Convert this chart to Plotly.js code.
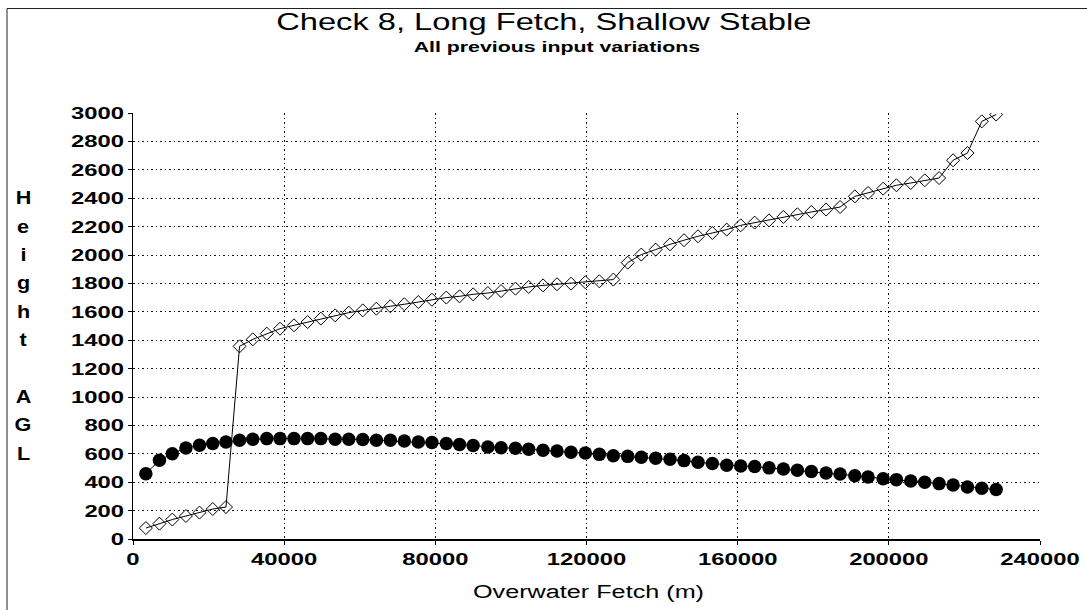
<!DOCTYPE html>
<html><head><meta charset="utf-8">
<script src="https://cdn.plot.ly/plotly-3.0.1.min.js"></script>
<style>html,body{margin:0;padding:0;background:#fff;} #chart{width:1087px;height:610px;}</style>
</head><body><div id="chart"></div>
<script>
// ---- data ----
const fetchM = [3400, 7000, 10400, 14000, 17600, 21100, 24600, 28200, 31700, 35400, 38900, 42600, 46200, 49700, 53500, 57100, 60800, 64400, 68100, 71800, 75500, 79100, 82900, 86400, 90000, 93900, 97400, 101200, 104700, 108500, 112200, 115900, 119700, 123400, 127100, 130900, 134500, 138300, 142100, 145800, 149500, 153300, 157100, 160800, 164500, 168300, 172100, 175800, 179500, 183400, 187100, 191000, 194500, 198500, 202000, 205800, 209500, 213300, 217000, 220800, 224600, 228400];
const heightDiamond = [77, 108, 137, 162, 186, 211, 225, 1357, 1406, 1446, 1481, 1505, 1528, 1552, 1575, 1594, 1610, 1622, 1639, 1653, 1669, 1685, 1700, 1709, 1723, 1732, 1746, 1763, 1775, 1786, 1794, 1798, 1808, 1815, 1827, 1946, 2003, 2038, 2075, 2104, 2132, 2155, 2179, 2209, 2228, 2244, 2268, 2287, 2303, 2320, 2338, 2413, 2437, 2467, 2491, 2507, 2526, 2542, 2667, 2718, 2941, 2989];
const heightDot = [460, 554, 601, 641, 660, 672, 683, 695, 702, 707, 707, 707, 707, 707, 702, 702, 700, 695, 695, 690, 683, 679, 672, 665, 658, 648, 643, 639, 632, 625, 620, 611, 606, 596, 587, 582, 575, 568, 561, 552, 540, 531, 519, 514, 510, 501, 493, 484, 475, 465, 458, 446, 437, 425, 418, 408, 399, 390, 380, 366, 357, 348];
const xTickVals = [0, 40000, 80000, 120000, 160000, 200000, 240000];
const yTickVals = [0, 200, 400, 600, 800, 1000, 1200, 1400, 1600, 1800, 2000, 2200, 2400, 2600, 2800, 3000];
const chartTitle = "Check 8, Long Fetch, Shallow Stable";
const chartSubtitle = "All previous input variations";
const xTitleText = "Overwater Fetch (m)";
const yTitleLetters = ["H", "e", "i", "g", "h", "t", "A", "G", "L"];
const yTitleRows = [2400, 2200, 2000, 1800, 1600, 1400, 1000, 800, 600];

// ---- geometry ----
const W = 1087, H = 610;
const PL = 133, PR = 1040, PT = 113, PB = 539;
const px2x = p => (p - PL) / (PR - PL);
const py2y = p => (PB - p) / (PB - PT);
const FONT = "Liberation Sans, Arial, sans-serif";

const annotations = [];
const stretch = [];
annotations.push({text: chartTitle, xref: 'paper', yref: 'paper', x: px2x(544), y: py2y(21),
  xanchor: 'center', yanchor: 'middle', showarrow: false, font: {family: FONT, size: 24, color: '#000'}});
stretch.push(1.36);
annotations.push({text: chartSubtitle, xref: 'paper', yref: 'paper', x: px2x(557), y: py2y(46),
  xanchor: 'center', yanchor: 'middle', showarrow: false, font: {family: FONT, size: 15, color: '#000', weight: 700}});
stretch.push(1.42);
annotations.push({text: xTitleText, xref: 'paper', yref: 'paper', x: px2x(588), y: py2y(592),
  xanchor: 'center', yanchor: 'middle', showarrow: false, font: {family: FONT, size: 18, color: '#000'}});
stretch.push(1.4);
yTitleLetters.forEach((ch, i) => {
  annotations.push({text: ch, xref: 'paper', yref: 'y', x: px2x(23), y: yTitleRows[i],
    xanchor: 'center', yanchor: 'middle', showarrow: false, font: {family: FONT, size: 18, color: '#000', weight: 700}});
  stretch.push(1.2);
});

const traces = [
  {x: fetchM, y: heightDot, type: 'scatter', mode: 'lines+markers',
   line: {color: '#000', width: 1}, marker: {symbol: 'circle', size: 13.5, color: '#000'}},
  {x: fetchM, y: heightDiamond, type: 'scatter', mode: 'lines+markers',
   line: {color: '#000', width: 1}, marker: {symbol: 'diamond-open', size: 10, color: '#000', line: {width: 1, color: '#000'}}}
];

const gridDash = '1.5px,3px';
const layout = {
  width: W, height: H, showlegend: false,
  paper_bgcolor: '#fff', plot_bgcolor: '#fff',
  margin: {l: PL, r: W - PR, t: PT, b: H - PB, pad: 0},
  font: {family: FONT, color: '#000'},
  xaxis: {range: [0, 240000], tickvals: xTickVals, ticktext: xTickVals.map(String),
    showgrid: true, gridcolor: '#111', gridwidth: 1, griddash: gridDash, zeroline: false,
    showline: true, linecolor: '#000', linewidth: 1.5, ticks: 'outside', ticklen: 4, tickcolor: '#000',
    tickfont: {family: FONT, size: 17, color: '#000', weight: 700}},
  yaxis: {range: [0, 3000], tickvals: yTickVals, ticktext: yTickVals.map(String),
    showgrid: true, gridcolor: '#111', gridwidth: 1, griddash: gridDash, zeroline: false,
    showline: true, linecolor: '#000', linewidth: 1.5, ticks: 'outside', ticklen: 4, tickcolor: '#000',
    tickfont: {family: FONT, size: 17, color: '#000', weight: 700}},
  annotations: annotations,
  shapes: [{type: 'rect', xref: 'paper', yref: 'paper', x0: px2x(7), x1: px2x(1095), y0: py2y(8.5), y1: py2y(640),
    line: {color: '#222', width: 1}, fillcolor: 'rgba(0,0,0,0)', layer: 'below'}]
};

function stretchText(el, f) {
  const w = el.getComputedTextLength();
  if (w > 0) {
    el.setAttribute('textLength', (w * f).toFixed(1));
    el.setAttribute('lengthAdjust', 'spacingAndGlyphs');
  }
}

Plotly.newPlot('chart', traces, layout, {staticPlot: true, displayModeBar: false}).then(gd => {
  gd.querySelectorAll('.xtick text, .ytick text').forEach(t => stretchText(t, 1.4));
  gd.querySelectorAll('.annotation').forEach((g, i) => {
    const t = g.querySelector('text');
    if (t) stretchText(t, stretch[i] || 1);
  });
});
</script>
</body></html>
